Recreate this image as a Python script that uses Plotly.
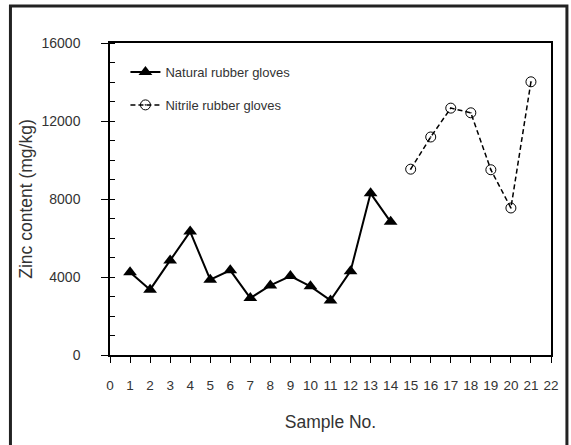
import plotly.graph_objects as go

natural_x = [1, 2, 3, 4, 5, 6, 7, 8, 9, 10, 11, 12, 13, 14]
natural_y = [4250, 3350, 4850, 6330, 3860, 4340, 2920, 3570, 4050, 3520, 2800, 4300, 8290, 6830]
nitrile_x = [15, 16, 17, 18, 19, 20, 21]
nitrile_y = [9530, 11180, 12660, 12420, 9500, 7540, 14010]

x_ticks = list(range(0, 23))
y_ticks = [0, 4000, 8000, 12000, 16000]

font_family = "Liberation Sans, Arial, sans-serif"
txt = "#333333"

fig = go.Figure()
fig.add_trace(go.Scatter(
    x=natural_x, y=natural_y, mode="lines+markers", name="Natural rubber gloves",
    line=dict(color="black", width=2),
    marker=dict(symbol="triangle-up", size=12, color="black"),
    legendgroup="a",
))
fig.add_trace(go.Scatter(
    x=nitrile_x, y=nitrile_y, mode="lines+markers", name="Nitrile rubber gloves",
    line=dict(color="black", width=1.5, dash="5px,3px"),
    marker=dict(symbol="circle-open-dot", size=10, color="black", line=dict(width=1)),
    legendgroup="b",
))

fig.update_layout(
    width=571, height=445,
    margin=dict(l=110, r=18, t=43, b=90),
    paper_bgcolor="white", plot_bgcolor="white",
    font=dict(family=font_family, size=13, color=txt),
    showlegend=True,
    legend=dict(
        x=0.035, y=0.955, xanchor="left", yanchor="top",
        bgcolor="rgba(0,0,0,0)", font=dict(size=13, color=txt),
        itemwidth=30, tracegroupgap=13,
    ),
    xaxis=dict(
        range=[0, 22], tickmode="array", tickvals=x_ticks, ticktext=[str(v) for v in x_ticks],
        ticks="outside", ticklen=6, tickcolor="black", showgrid=False, zeroline=False,
        showline=True, linecolor="black", linewidth=1.5, mirror=True,
        ticklabelstandoff=11,
        title=dict(text="Sample No.", font=dict(size=17.5, color=txt), standoff=24),
        tickfont=dict(size=13.5, color=txt),
    ),
    yaxis=dict(
        range=[0, 16000], tickmode="array", tickvals=y_ticks, ticktext=[str(v) for v in y_ticks],
        ticks="outside", ticklen=7, tickcolor="black", showgrid=False, zeroline=False,
        showline=True, linecolor="black", linewidth=1.5, mirror=True,
        ticklabelstandoff=18,
        minor=dict(dtick=1000, ticks="inside", ticklen=5, tickcolor="black", showgrid=False),
        title=dict(text="Zinc content (mg/kg)", font=dict(size=17.5, color=txt), standoff=4),
        tickfont=dict(size=14, color=txt),
    ),
    shapes=[dict(
        type="rect", xref="paper", yref="paper",
        x0=(10 - 110) / 443, x1=(569 - 110) / 443,
        y0=(355 - 455) / 312, y1=(355 - 6) / 312,
        line=dict(color="#222222", width=3), layer="above",
    )],
)

fig.write_html("out.html", config={"displayModeBar": False},
               post_script="document.body.style.margin='0';")
